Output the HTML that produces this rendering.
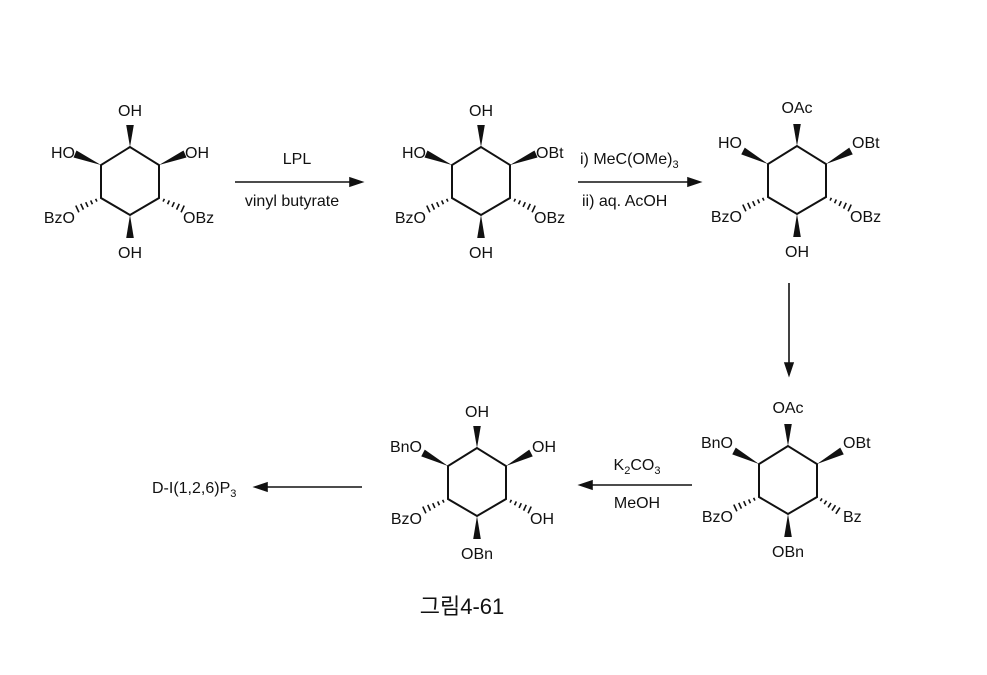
<!DOCTYPE html>
<html><head><meta charset="utf-8"><style>
body{margin:0;background:#fff;width:987px;height:670px;overflow:hidden}
svg text{font-family:"Liberation Sans",Arial,sans-serif;font-size:16px;fill:#111}
.cap{font-family:"Liberation Sans","Noto Sans CJK KR",sans-serif;font-size:22px}
</style></head><body>
<svg id="s" width="987" height="670" viewBox="0 0 987 670">
<g id="r1" transform="translate(130,147)">
<text x="0" y="-31" text-anchor="middle">OH</text>
<text x="-55" y="11" text-anchor="end">HO</text>
<text x="55" y="11">OH</text>
<text x="-55" y="76" text-anchor="end">BzO</text>
<text x="53" y="76">OBz</text>
<text x="0" y="111" text-anchor="middle">OH</text>
</g>
<g id="r2" transform="translate(481,147)">
<text x="0" y="-31" text-anchor="middle">OH</text>
<text x="-55" y="11" text-anchor="end">HO</text>
<text x="55" y="11">OBt</text>
<text x="-55" y="76" text-anchor="end">BzO</text>
<text x="53" y="76">OBz</text>
<text x="0" y="111" text-anchor="middle">OH</text>
</g>
<g id="r3" transform="translate(797,146)">
<text x="0" y="-33" text-anchor="middle">OAc</text>
<text x="-55" y="2" text-anchor="end">HO</text>
<text x="55" y="2">OBt</text>
<text x="-55" y="76" text-anchor="end">BzO</text>
<text x="53" y="76">OBz</text>
<text x="0" y="111" text-anchor="middle">OH</text>
</g>
<g id="r4" transform="translate(788,446)">
<text x="0" y="-33" text-anchor="middle">OAc</text>
<text x="-55" y="2" text-anchor="end">BnO</text>
<text x="55" y="2">OBt</text>
<text x="-55" y="76" text-anchor="end">BzO</text>
<text x="55" y="76">Bz</text>
<text x="0" y="111" text-anchor="middle">OBn</text>
</g>
<g id="r5" transform="translate(477,448)">
<text x="0" y="-31" text-anchor="middle">OH</text>
<text x="-55" y="4" text-anchor="end">BnO</text>
<text x="55" y="4">OH</text>
<text x="-55" y="76" text-anchor="end">BzO</text>
<text x="53" y="76">OH</text>
<text x="0" y="111" text-anchor="middle">OBn</text>
</g>
<g stroke="#111" stroke-width="1.6" fill="#111">
<line x1="235" y1="182" x2="352" y2="182"/><polygon points="362,182 350,178 350,186"/>
<line x1="578" y1="182" x2="690" y2="182"/><polygon points="700,182 688,178 688,186"/>
<line x1="789" y1="283" x2="789" y2="365"/><polygon points="789,375 785,363 793,363"/>
<line x1="692" y1="485" x2="590" y2="485"/><polygon points="580,485 592,481 592,489"/>
<line x1="362" y1="487" x2="265" y2="487"/><polygon points="255,487 267,483 267,491"/>
</g>
<text x="297" y="164" text-anchor="middle">LPL</text>
<text x="292" y="206" text-anchor="middle">vinyl butyrate</text>
<text x="580" y="164">i) MeC(OMe)<tspan font-size="11" dy="4">3</tspan></text>
<text x="582" y="206">ii) aq. AcOH</text>
<text x="637" y="470" text-anchor="middle">K<tspan font-size="11" dy="4">2</tspan><tspan dy="-4">CO</tspan><tspan font-size="11" dy="4">3</tspan></text>
<text x="637" y="508" text-anchor="middle">MeOH</text>
<text x="152" y="493">D-I(1,2,6)P<tspan font-size="11" dy="4">3</tspan></text>
<text class="cap" x="462" y="614" text-anchor="middle">그림4-61</text>
</svg>
<script>
var ns="http://www.w3.org/2000/svg";
function el(g,t,a){var e=document.createElementNS(ns,t);for(var k in a)e.setAttribute(k,a[k]);g.appendChild(e);}
function wedge(g,x1,y1,x2,y2){var dx=x2-x1,dy=y2-y1,L=Math.hypot(dx,dy),px=-dy/L*3.8,py=dx/L*3.8;
el(g,"polygon",{points:x1+","+y1+" "+(x2+px)+","+(y2+py)+" "+(x2-px)+","+(y2-py),fill:"#111"});}
function hash(g,x1,y1,x2,y2){var dx=x2-x1,dy=y2-y1,L=Math.hypot(dx,dy),ux=-dy/L,uy=dx/L;
for(var i=1;i<=5;i++){var t=i/5.5,cx=x1+dx*t,cy=y1+dy*t,w=1+3*t;
el(g,"line",{x1:cx+ux*w,y1:cy+uy*w,x2:cx-ux*w,y2:cy-uy*w,stroke:"#111","stroke-width":1.6});}}
var cfg={r1:[0,0],r2:[0,0],r3:[1,0],r4:[1,1],r5:[1,0]};
for(var id in cfg){var g=document.getElementById(id),up=cfg[id][0];
el(g,"polygon",{points:"0,0 -29,18 -29,51 0,68 29,51 29,18",fill:"none",stroke:"#111","stroke-width":2});
wedge(g,0,0,0,-22);
if(up){wedge(g,-29,18,-54,5);wedge(g,29,18,54,5);}else{wedge(g,-29,18,-55,7);wedge(g,29,18,55,7);}
hash(g,-29,51,-55,63);
if(cfg[id][1])hash(g,29,51,52,66);else hash(g,29,51,55,63);
wedge(g,0,68,0,91);}
</script>
</body></html>
